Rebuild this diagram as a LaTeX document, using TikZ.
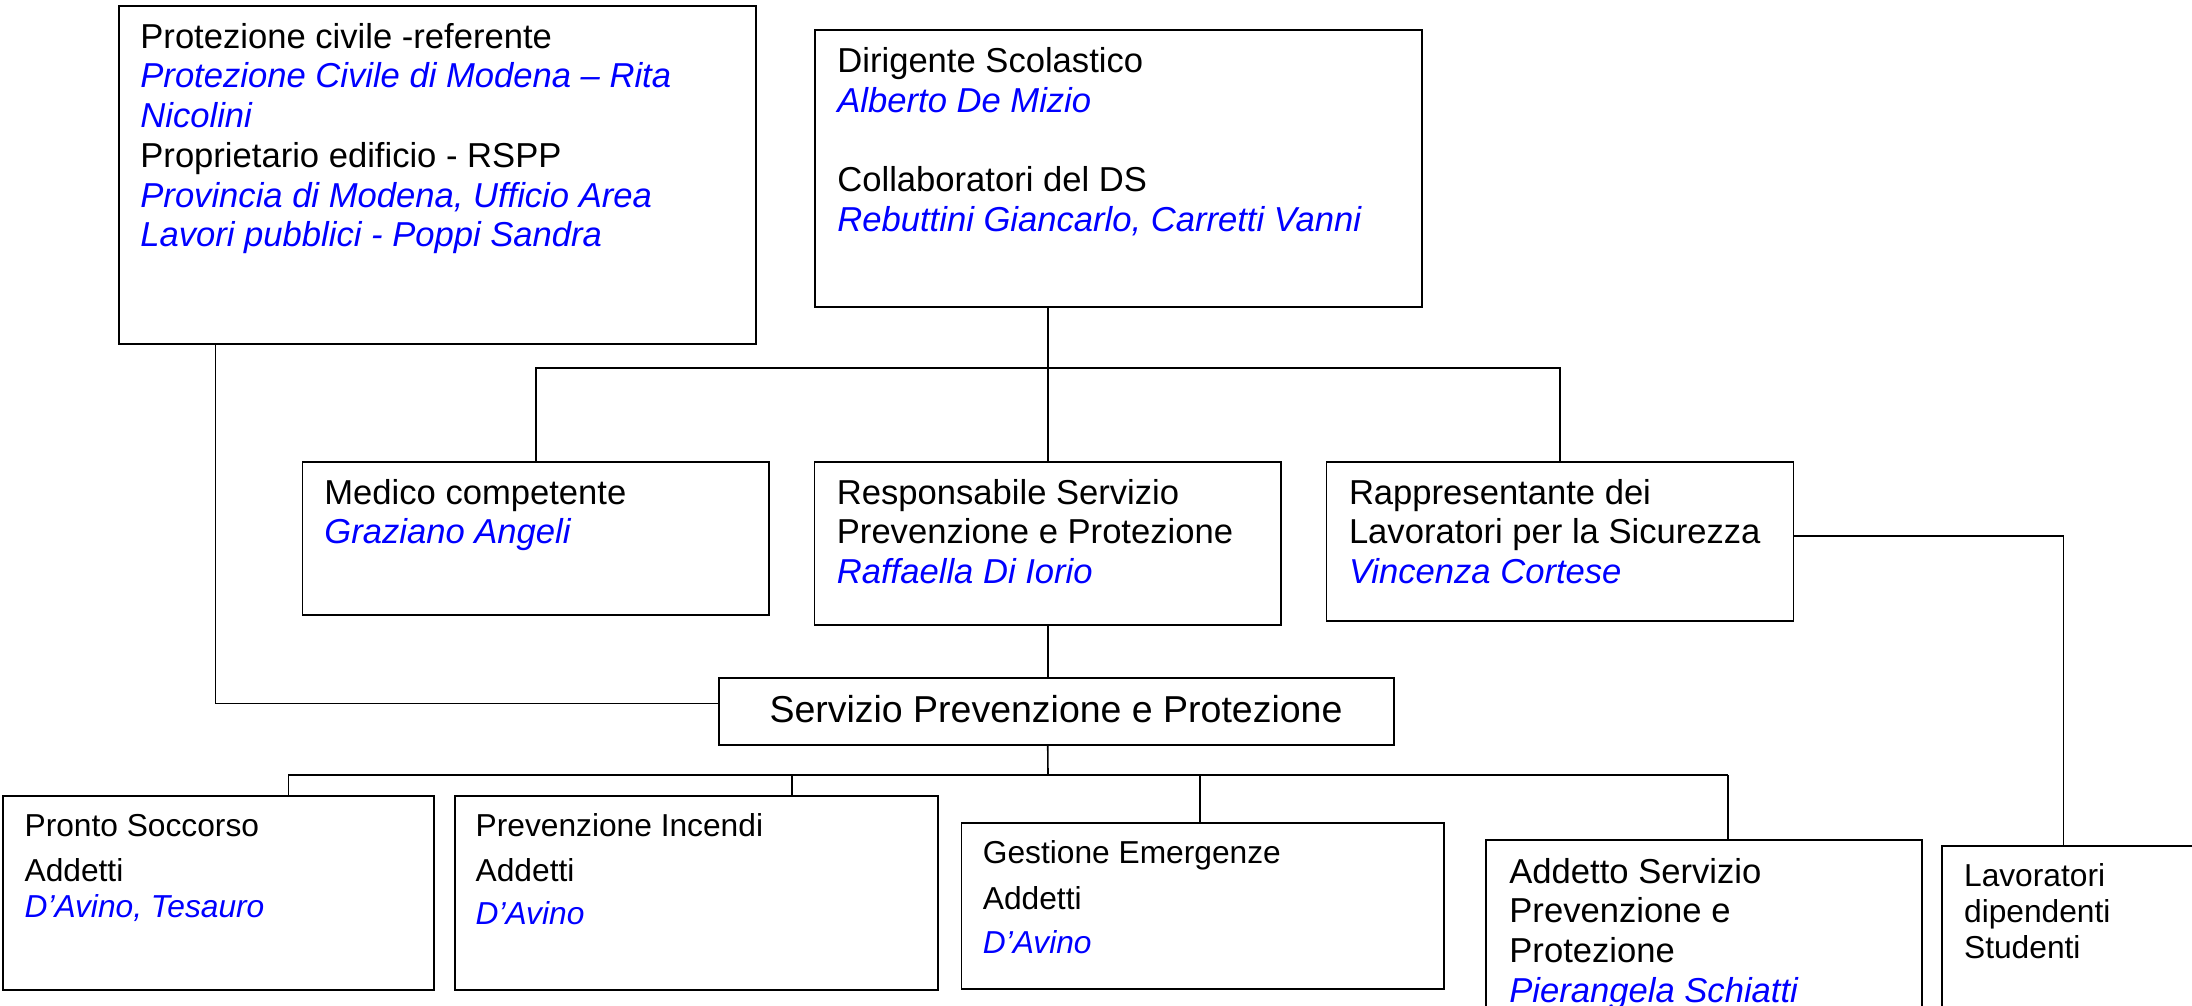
\documentclass[tikz,border=0pt]{standalone}
\usepackage{fontspec}
\setmainfont{Liberation Sans}
\usetikzlibrary{fit}
\newcommand\fsA{\fontsize{17.3}{19.9}\selectfont}
\newcommand\fsB{\fontsize{15.86}{18.2}\selectfont}
\newcommand\fsC{\fontsize{18.74}{21.5}\selectfont}
\definecolor{nameblue}{RGB}{0,0,255}
\begin{document}
\begin{tikzpicture}[x=0.5pt,y=-0.5pt,
  box/.style={draw, line width=0.9pt, inner sep=0pt},
  con/.style={line width=0.8pt},
  tl/.style={anchor=base west, inner sep=0pt, font=\fsA},
  tn/.style={tl, text=nameblue, font=\fsA\itshape},
  sl/.style={anchor=base west, inner sep=0pt, font=\fsB},
  sn/.style={sl, text=nameblue, font=\fsB\itshape}]
\useasboundingbox (0,0) rectangle (2192,1006);
\fill[white] (0,0) rectangle (2192,1006);
\clip (0,0) rectangle (2192,1006);

% boxes
\node[box, fit={(119,5.7)(756,344)}] (A) {};
\node[box, fit={(815,30)(1422,307)}] (B) {};
\node[box, fit={(302.5,462)(769,614.7)}] (MED) {};
\node[box, fit={(814.5,462)(1281,624.7)}] (RSPP) {};
\node[box, fit={(1326.5,462)(1793.5,620.7)}] (RLS) {};
\node[box, fit={(719,678)(1393.6,745)}] (SPP) {};
\node[box, fit={(3,796)(434,990)}] (PS) {};
\node[box, fit={(455,796)(938,990)}] (PI) {};
\node[box, fit={(961.5,823)(1444,989)}] (GE) {};
\node[box, fit={(1486,840)(1922,1080)}] (ASPP) {};
\node[box, fit={(1942,846)(2260,1080)}] (LAV) {};

% junction coordinates
\coordinate (j1) at (1048,367.7);
\coordinate (j2) at (1048,775);
\coordinate (aDrop) at (215.3,703.3);
\coordinate (rl) at (2063.5,536);
\coordinate (dPS) at (288.4,775);
\coordinate (dPI) at (791.7,775);
\coordinate (dGE) at (1200,775);
\coordinate (dAS) at (1728,775);

% connectors
\draw[con] (RSPP.north |- B.south) -- (RSPP.north);
\draw[con] (MED.north) -- (MED.north |- j1) -- (RLS.north |- j1) -- (RLS.north);
\draw[con] (A.south -| aDrop) -- (aDrop) -- (aDrop -| SPP.west);
\draw[con] (RSPP.south) -- (RSPP.south |- SPP.north);
\draw[con] (RSPP.south |- SPP.south) -- (j2);
\draw[con] (dPS) -- (dAS);
\draw[con] (dPS) -- (dPS |- PS.north);
\draw[con] (dPI) -- (dPI |- PI.north);
\draw[con] (dGE) -- (dGE |- GE.north);
\draw[con] (dAS) -- (dAS |- ASPP.north);
\draw[con] (RLS.east |- rl) -- (rl) -- (rl |- LAV.north);

% texts box A
\node[tl] (a1) at (140,48.3) {Protezione civile -referente};
\node[tn] (a2) at (140,88) {Protezione Civile di Modena – Rita};
\node[tn] (a3) at (140,127.7) {Nicolini};
\node[tl] (a4) at (140,167.4) {Proprietario edificio - RSPP};
\node[tn] (a5) at (140,207.1) {Provincia di Modena, Ufficio Area};
\node[tn] (a6) at (140,246.8) {Lavori pubblici - Poppi Sandra};
% box B
\node[tl] (b1) at (837,72.7) {Dirigente Scolastico};
\node[tn] (b2) at (837,112.3) {Alberto De Mizio};
\node[tl] (b3) at (837,191.5) {Collaboratori del DS};
\node[tn] (b4) at (837,231.1) {Rebuttini Giancarlo, Carretti Vanni};
% medico
\node[tl] (m1) at (324,504) {Medico competente};
\node[tn] (m2) at (324,543.6) {Graziano Angeli};
% RSPP
\node[tl] (r1) at (836.5,504) {Responsabile Servizio};
\node[tl] (r2) at (836.5,543.6) {Prevenzione e Protezione};
\node[tn] (r3) at (836.5,583.3) {Raffaella Di Iorio};
% RLS
\node[tl] (s1) at (1348.6,504) {Rappresentante dei};
\node[tl] (s2) at (1348.6,543.6) {Lavoratori per la Sicurezza};
\node[tn] (s3) at (1348.6,583.3) {Vincenza Cortese};
% SPP
\node[anchor=base, inner sep=0pt, font=\fsC] (spt) at (1056,722.7) {Servizio Prevenzione e Protezione};
% Pronto soccorso
\node[sl] (p1) at (24.2,836) {Pronto Soccorso};
\node[sl] (p2) at (24.2,881.7) {Addetti};
\node[sn] (p3) at (24.2,917) {D’Avino, Tesauro};
% Prevenzione incendi
\node[sl] (i1) at (475.3,836) {Prevenzione Incendi};
\node[sl] (i2) at (475.3,881) {Addetti};
\node[sn] (i3) at (475.3,924) {D’Avino};
% Gestione emergenze
\node[sl] (g1) at (982.5,863) {Gestione Emergenze};
\node[sl] (g2) at (982.5,909) {Addetti};
\node[sn] (g3) at (982.5,953) {D’Avino};
% Addetto SPP
\node[tl] (d1) at (1509,883.3) {Addetto Servizio};
\node[tl] (d2) at (1509,922.8) {Prevenzione e};
\node[tl] (d3) at (1509,962.4) {Protezione};
\node[tn] (d4) at (1509,1002) {Pierangela Schiatti};
% Lavoratori
\node[sl] (l1) at (1963.7,886.7) {Lavoratori};
\node[sl] (l2) at (1963.7,922.5) {dipendenti};
\node[sl] (l3) at (1963.7,958.3) {Studenti};
\end{tikzpicture}
\end{document}
